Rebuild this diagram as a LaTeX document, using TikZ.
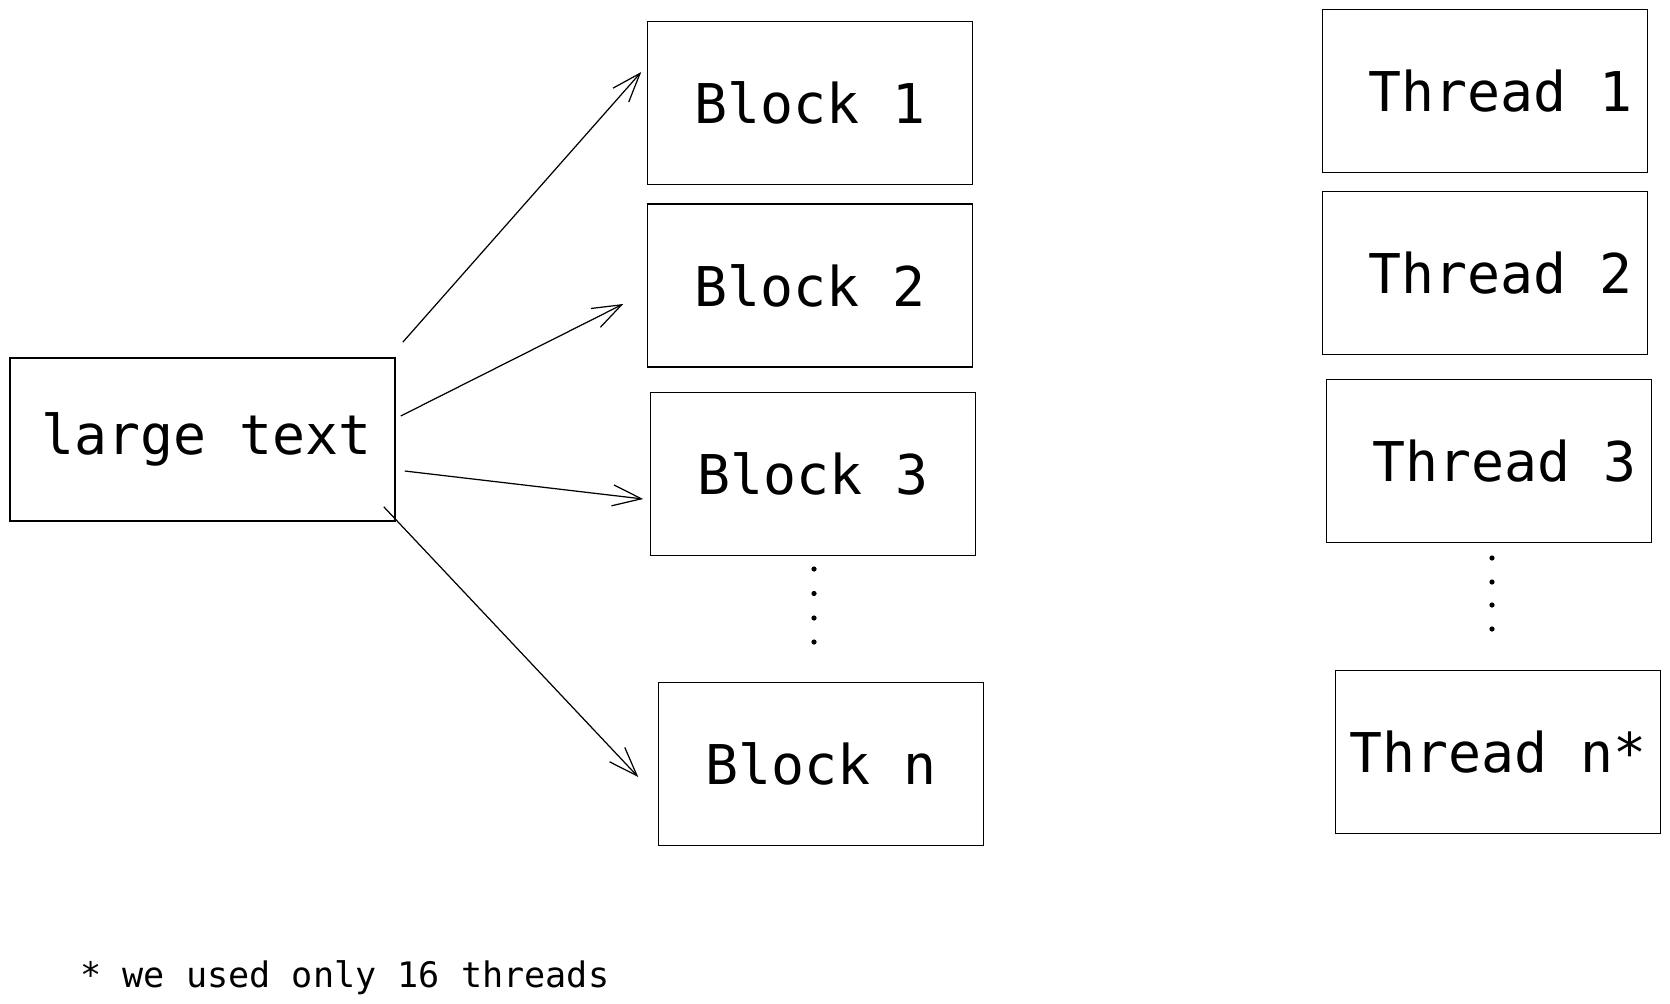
\documentclass[tikz,border=0pt]{standalone}
\usepackage{fontspec}
\setmonofont{DejaVu Sans Mono}
\usepackage{tikz}
\usetikzlibrary{calc}
\usetikzlibrary{arrows.meta}
\tikzset{block/.style = {shape=rectangle,draw,line width=0.9pt,minimum width=6.5cm,minimum height=3.26cm,
    font=\ttfamily\fontsize{31.2}{37}\selectfont}}
\tikzset{edge/.style = {-{Straight Barb[length=0.58cm,width=0.42cm]},line width=0.7pt}}
\tikzset{dot/.style = {fill=black}}

\begin{document}
\begin{tikzpicture}[x=0.02cm,y=-0.02cm]
            \useasboundingbox (0,0) rectangle (1670,1004);

            % Input
            \node[block,minimum width=7.7cm] (large) at (202.5,439.5) {\hspace*{0.15cm}large text};

            % Blocks
            \node[block] (b1) at (810,103) {Block 1};
            \node[block] (b2) at (810,285.5) {Block 2};
            \node[block] (b3) at (813,474) {Block 3};
            \node[block] (bn) at (821,764) {Block n};

            % Threads
            \node[block] (t1) at (1485,91) {\hspace*{0.6cm}Thread 1};
            \node[block] (t2) at (1485,273) {\hspace*{0.6cm}Thread 2};
            \node[block] (t3) at (1489,461) {\hspace*{0.6cm}Thread 3};
            \node[block] (tn) at (1498,752) {Thread n*};

            % Dots
            \foreach \y in {569,593.5,618,642}
                \fill[dot] (814,\y) circle (2.6);
            \foreach \y in {558,582,605,629}
                \fill[dot] (1492,\y) circle (2.6);

            % Edges
            \draw[edge] ([shift={(7,-15)}]large.north east) to ([shift={(-5.5,-31)}]b1.west);
            \draw[edge] ([shift={(5,-23.5)}]large.east) to ([shift={(-23.5,18.5)}]b2.west);
            \draw[edge] ([shift={(9,31.5)}]large.east) to ([shift={(-6.5,25)}]b3.west);
            \draw[edge] ([shift={(-12,-15)}]large.south east) to ([shift={(-19.5,13)}]bn.west);

            % Note
            \node[anchor=base west,inner sep=0pt,font=\ttfamily\fontsize{20}{24}\selectfont] (note) at (80,987) {* we used only 16 threads};
        \end{tikzpicture}
\end{document}
